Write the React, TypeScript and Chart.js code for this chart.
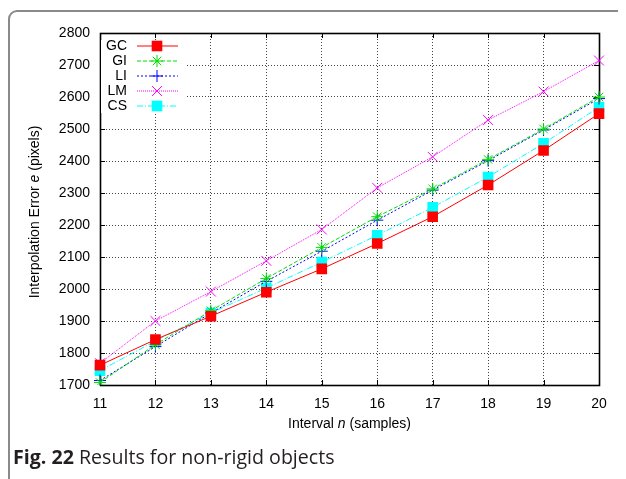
import React, { useEffect, useRef } from "react";
import { Chart, registerables } from "chart.js";
import { drawPoint } from "chart.js/helpers";

Chart.register(...registerables);

const intervals = ["11", "12", "13", "14", "15", "16", "17", "18", "19", "20"];
const gcValues = [1762, 1842, 1915, 1990, 2063, 2142, 2226, 2325, 2433, 2548];
const giValues = [1708, 1826, 1932, 2033, 2130, 2226, 2313, 2405, 2500, 2600];
const liValues = [1714, 1820, 1925, 2024, 2118, 2215, 2309, 2401, 2497, 2595];
const lmValues = [1768, 1900, 1992, 2088, 2186, 2316, 2413, 2528, 2617, 2714];
const csValues = [1745, 1838, 1925, 2003, 2084, 2168, 2255, 2350, 2455, 2568];
const seriesLabels = ["GC", "GI", "LI", "LM", "CS"];
const yMin = 1700;
const yMax = 2800;
const yStep = 100;
const yTitle = ["Interpolation Error ", "e", " (pixels)"];
const xTitle = ["Interval ", "n", " (samples)"];

const FONT = '"Liberation Sans", Arial, sans-serif';

const drawMixed = (ctx: CanvasRenderingContext2D, parts: string[], x: number, y: number, size: number) => {
  const fonts = parts.map((_, i) => (i === 1 ? `italic ${size}px ${FONT}` : `${size}px ${FONT}`));
  let total = 0;
  const widths = parts.map((p, i) => {
    ctx.font = fonts[i];
    const w = ctx.measureText(p).width;
    total += w;
    return w;
  });
  let cx = x - total / 2;
  ctx.textAlign = "left";
  ctx.textBaseline = "middle";
  parts.forEach((p, i) => {
    ctx.font = fonts[i];
    ctx.fillText(p, cx, y);
    cx += widths[i];
  });
};

const framePlugin = {
  id: "gpFrame",
  beforeDatasetsDraw(chart: any) {
    const ctx = chart.ctx as CanvasRenderingContext2D;
    const { left, right, top, bottom } = chart.chartArea;
    const xs = chart.scales.x;
    const ys = chart.scales.y;
    ctx.save();
    ctx.strokeStyle = "#000";
    ctx.lineWidth = 1;
    ctx.setLineDash([]);
    ctx.beginPath();
    const tl = 5;
    xs.ticks.forEach((_: any, i: number) => {
      const px = Math.round(xs.getPixelForTick(i)) + 0.5;
      ctx.moveTo(px, bottom);
      ctx.lineTo(px, bottom - tl);
      ctx.moveTo(px, top);
      ctx.lineTo(px, top + tl);
    });
    ys.ticks.forEach((t: any) => {
      const py = Math.round(ys.getPixelForValue(t.value)) + 0.5;
      ctx.moveTo(left, py);
      ctx.lineTo(left + tl, py);
      ctx.moveTo(right, py);
      ctx.lineTo(right - tl, py);
    });
    ctx.stroke();
    ctx.lineWidth = 1.6;
    ctx.strokeRect(Math.round(left) + 0.5, Math.round(top) + 0.5, Math.round(right - left), Math.round(bottom - top));
    ctx.restore();
  },
  afterDatasetsDraw(chart: any) {
    const ctx = chart.ctx as CanvasRenderingContext2D;
    const { left, top, bottom, right } = chart.chartArea;
    ctx.save();
    // key box (opaque)
    ctx.fillStyle = "#fff";
    ctx.fillRect(left + 1, top + 7, 86, 73);
    chart.data.datasets.forEach((ds: any, i: number) => {
      const y = top + 13 + i * 15;
      ctx.fillStyle = "#000";
      ctx.font = `14px ${FONT}`;
      ctx.textAlign = "right";
      ctx.textBaseline = "middle";
      ctx.fillText(ds.label, left + 27, y);
      ctx.strokeStyle = ds.borderColor;
      ctx.lineWidth = ds.borderWidth;
      ctx.setLineDash(ds.borderDash || []);
      ctx.beginPath();
      ctx.moveTo(left + 37, y);
      ctx.lineTo(left + 78, y);
      ctx.stroke();
      ctx.setLineDash([]);
      ctx.fillStyle = ds.pointBackgroundColor;
      ctx.strokeStyle = ds.pointBorderColor;
      ctx.lineWidth = ds.pointBorderWidth;
      drawPoint(ctx, { pointStyle: ds.pointStyle, rotation: 0, radius: ds.pointRadius, borderWidth: ds.pointBorderWidth }, left + 57, y);
    });
    // axis titles
    ctx.fillStyle = "#000";
    ctx.save();
    ctx.translate(left - 65, (top + bottom) / 2 + 3);
    ctx.rotate(-Math.PI / 2);
    drawMixed(ctx, yTitle, 0, 0, 14);
    ctx.restore();
    drawMixed(ctx, xTitle, (left + right) / 2, bottom + 39, 14);
    ctx.restore();
  },
};

const mk = (label: string, data: number[], color: string, style: string, radius: number, dash: number[]) => ({
  label,
  data,
  borderColor: color,
  backgroundColor: color,
  borderWidth: 1,
  borderDash: dash,
  pointStyle: style,
  pointRadius: radius,
  pointHoverRadius: radius,
  pointBackgroundColor: color,
  pointBorderColor: color,
  pointBorderWidth: style === "rect" ? 0 : 1,
  tension: 0,
  fill: false,
});

export default function App() {
  const ref = useRef<HTMLCanvasElement | null>(null);
  useEffect(() => {
    if (!ref.current) return;
    const chart = new Chart(ref.current, {
      type: "line",
      data: {
        labels: intervals,
        datasets: [
          mk(seriesLabels[0], gcValues, "#ff0000", "rect", 7.5, []),
          mk(seriesLabels[1], giValues, "#00e000", "star", 6, [4, 2]),
          mk(seriesLabels[2], liValues, "#0000ff", "cross", 6, [2, 2]),
          mk(seriesLabels[3], lmValues, "#ff00ff", "crossRot", 7, [1, 1]),
          mk(seriesLabels[4], csValues, "#00ffff", "rect", 7.5, [6, 2, 1, 2]),
        ] as any,
      },
      options: {
        animation: false,
        responsive: false,
        maintainAspectRatio: false,
        events: [],
        layout: { padding: { left: 0, right: 27, top: 25, bottom: 0 } },
        plugins: { legend: { display: false }, tooltip: { enabled: false } },
        scales: {
          x: {
            type: "category",
            offset: false,
            afterFit: (s: any) => {
              s.height = 63;
            },
            grid: { color: "#444", lineWidth: 1, drawTicks: false },
            border: { display: false, dash: [1, 2] },
            ticks: { color: "#000", font: { family: FONT, size: 14 }, padding: 11, maxRotation: 0, autoSkip: false },
          },
          y: {
            type: "linear",
            min: yMin,
            max: yMax,
            afterFit: (s: any) => {
              s.width = 92;
            },
            grid: { color: "#444", lineWidth: 1, drawTicks: false },
            border: { display: false, dash: [1, 2] },
            ticks: {
              stepSize: yStep,
              color: "#000",
              font: { family: FONT, size: 14 },
              padding: 10,
              callback: (v: any) => String(v),
            },
          },
        },
      },
      plugins: [framePlugin],
    });
    return () => chart.destroy();
  }, []);

  return (
    <div style={{ position: "relative", width: 618, height: 471, overflow: "hidden" }}>
      <div
        style={{
          position: "absolute",
          left: 0,
          top: 2,
          width: 700,
          height: 600,
          border: "2px solid #8a8a8a",
          borderRadius: 9,
          boxSizing: "border-box",
        }}
      />
      <canvas ref={ref} width={618} height={440} style={{ position: "absolute", left: 0, top: 0, width: 618, height: 440 }} />
      <div
        style={{
          position: "absolute",
          left: 5,
          top: 435,
          fontFamily: '"Open Sans", sans-serif',
          fontSize: 20,
          lineHeight: "27px",
          color: "#231f20",
          whiteSpace: "nowrap",
          transformOrigin: "left center",
          transform: "scaleX(0.98)",
        }}
      >
        <span style={{ fontWeight: 700 }}>Fig. 22</span> Results for non-rigid objects
      </div>
    </div>
  );
}
